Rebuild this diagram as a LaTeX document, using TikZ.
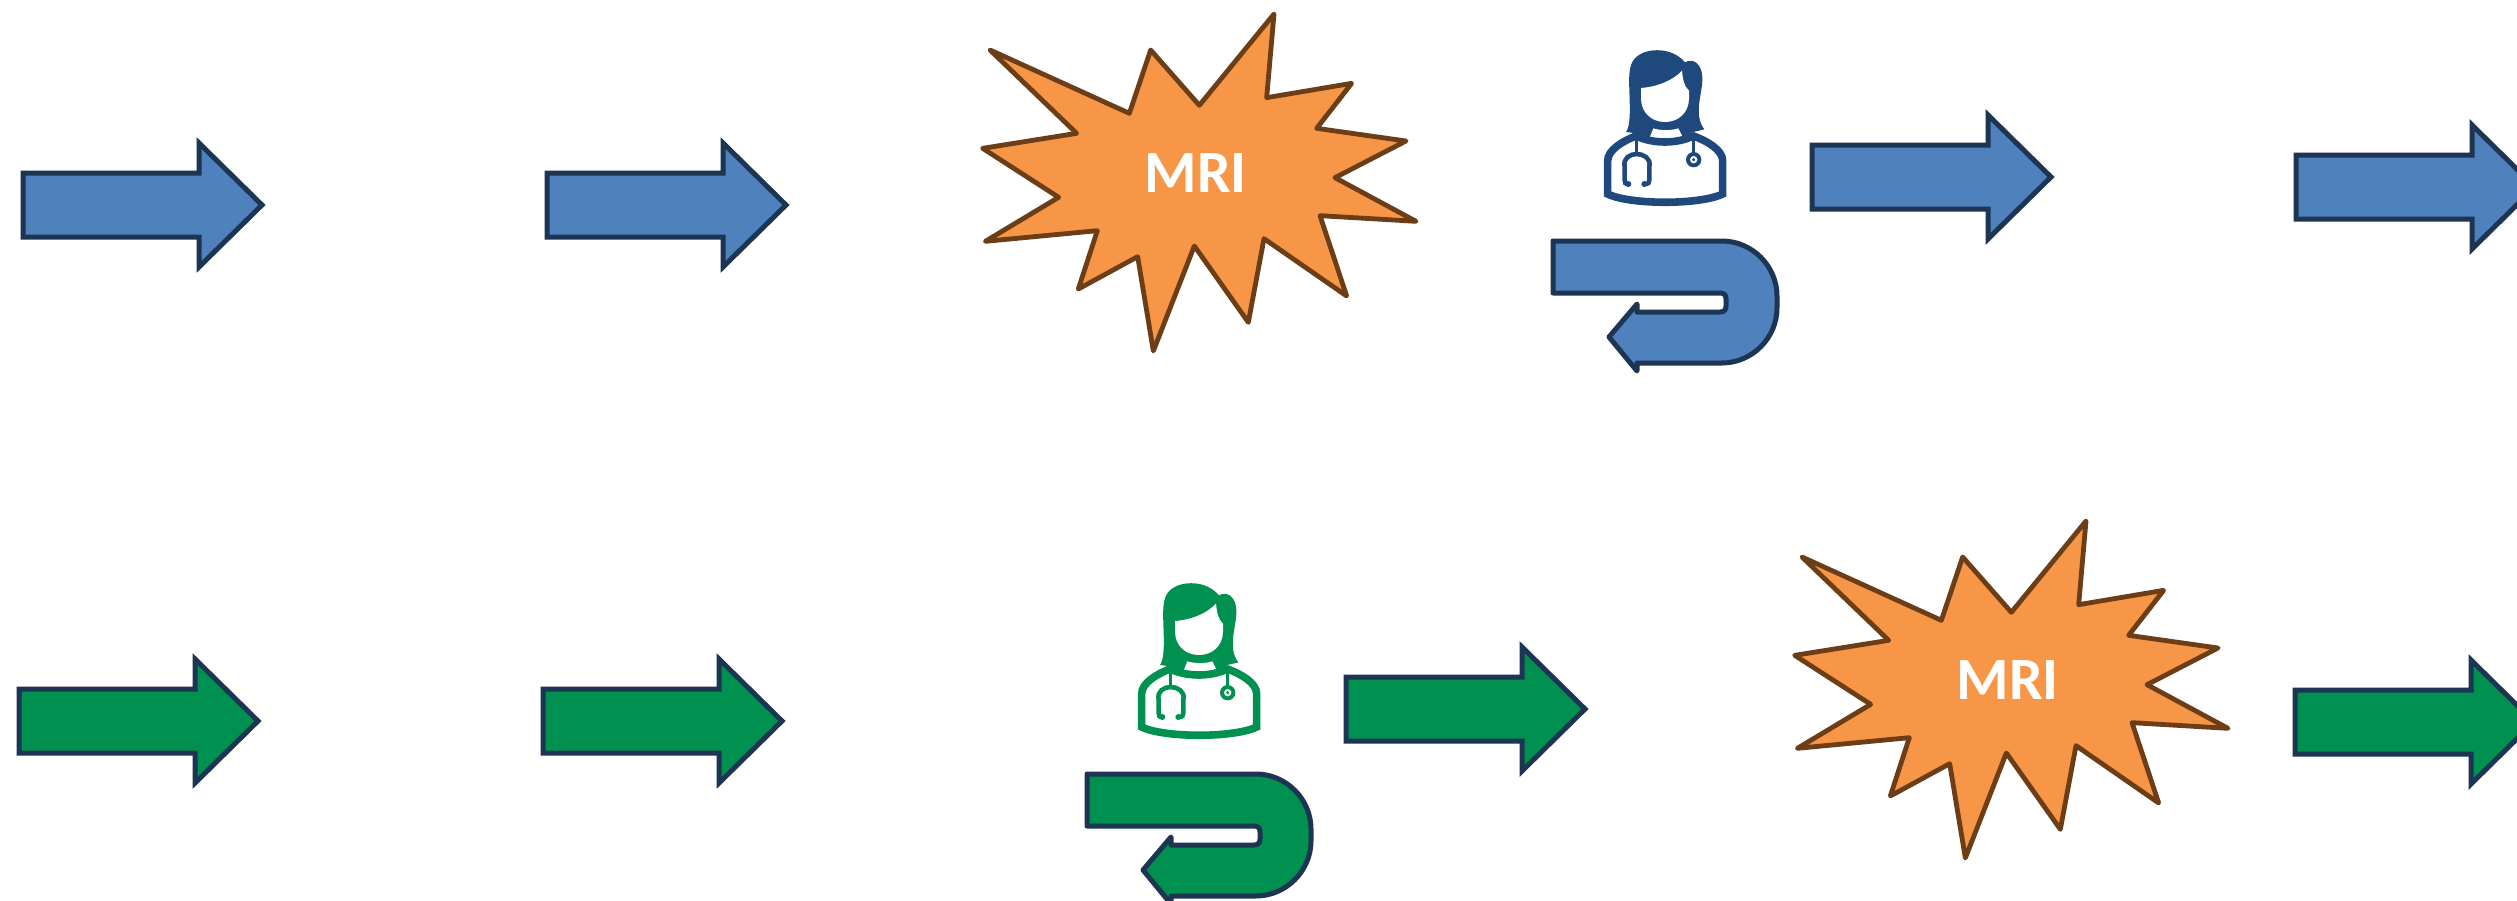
\documentclass[tikz,border=0pt]{standalone}
\usepackage{fontspec}
\setmainfont{Carlito}
\definecolor{navy}{HTML}{1C3553}
\definecolor{arrowblue}{HTML}{4F81BD}
\definecolor{arrowgreen}{HTML}{00904F}
\definecolor{iconblue}{HTML}{1F497D}
\definecolor{starfill}{HTML}{F79646}
\definecolor{starline}{HTML}{6B3E17}
\tikzset{
  arrowshape/.style={draw=navy,line width=5pt,miter limit=10},
  uturn/.style={draw=navy,line width=5pt,line join=round},
  burst/.style={fill=starfill,draw=starline,line width=4.8pt,line join=round},
  mrilabel/.style={text=white,font=\fontsize{60}{60}\selectfont\bfseries,inner sep=0pt},
}
\newcommand{\rarrow}[3]{%
  \draw[arrowshape,fill=#3,shift={(#1,#2)}] (0,-32) -- (176,-32) -- (176,-62) -- (239,0) -- (176,62) -- (176,32) -- (0,32) -- cycle;}
\newcommand{\burst}[3]{%
  \begin{scope}[shift={(#1,#2)},scale=1/3]
    \draw[burst] (120,150)--(538,340)--(602,150)--(748,316)--(972,42)--(950,293)--(1205,250)--(1100,385)--(1368,423)--(1155,533)--(1398,664)--(1110,647)--(1190,888)--(942,716)--(895,967)--(733,738)--(610,1053)--(563,770)--(385,867)--(442,692)--(106,724)--(326,592)--(98,445)--(380,400)--cycle;
    \node[mrilabel] (#3) at (737,519) {MRI};
  \end{scope}}
\newcommand{\doctorgroup}[4]{%
  \begin{scope}[shift={(#1,#2)}]
    \draw[uturn,fill=#4] (1553,241) -- (1722,241)
      .. controls (1752,241) and (1777,266) .. (1777,296) -- (1777,308)
      .. controls (1777,338) and (1752,363) .. (1722,363) -- (1637,363)
      -- (1637,371) -- (1609,337) -- (1637,304) -- (1637,312) -- (1720,312)
      .. controls (1724,312) and (1726,310) .. (1726,306) -- (1726,299)
      .. controls (1726,295) and (1724,293) .. (1720,293) -- (1553,293) -- cycle;
    \begin{scope}[shift={(1590,30)},scale=1/3,#3]
      \fill (108,306) .. controls (122,285) and (120,240) .. (118,180)
        .. controls (116,125) and (118,95) .. (145,76)
        .. controls (175,55) and (245,50) .. (285,97)
        .. controls (305,85) and (338,95) .. (337,150)
        .. controls (336,195) and (310,255) .. (343,298)
        -- (310,306) -- (272,325) -- (185,325) -- (140,310) -- cycle;
      \fill[white] (153,174) .. controls (205,170) and (250,150) .. (276,122)
        .. controls (278,145) and (282,170) .. (297,182) -- (297,205)
        .. controls (297,248) and (265,276) .. (225,276)
        .. controls (185,276) and (153,248) .. (153,205) -- cycle;
      \fill[white] (178,325) -- (190,295) .. controls (210,302) and (245,302) .. (265,295) -- (280,325) -- cycle;
      \draw[line width=7.6pt,line join=miter,line cap=round] (138,318) .. controls (100,332) and (53,360) .. (53,392)
        -- (53,492) .. controls (120,525) and (330,525) .. (398,492)
        -- (398,392) .. controls (398,360) and (350,332) .. (310,318);
      \draw[line width=7.6pt,line cap=round] (138,318) .. controls (190,342) and (260,342) .. (310,318);
      \draw[line width=3.4pt] (140,325) -- (140,372);
      \draw[line width=3.4pt] (310,325) -- (310,370);
      \draw[line width=4.6pt] (115,462) .. controls (105,462) and (104,458) .. (104,450) -- (104,410)
        .. controls (98,385) and (120,372) .. (140,372)
        .. controls (160,372) and (184,385) .. (178,410) -- (178,450)
        .. controls (178,458) and (175,462) .. (165,462);
      \fill (115,462) circle (9);
      \fill (163,462) circle (9);
      \fill (311,389) circle (23);
      \fill[white] (311,389) circle (11);
      \fill (311,389) circle (5);
    \end{scope}
  \end{scope}}
\begin{document}
\begin{tikzpicture}[x=1pt,y=-1pt]
  \useasboundingbox (0,0) rectangle (2517,900);
  \clip (0,0) rectangle (2517,900);
  \fill[white] (0,0) rectangle (2517,900);
  \rarrow{23}{205}{arrowblue}
  \rarrow{547}{205}{arrowblue}
  \burst{950}{0}{mritop}
  \doctorgroup{0}{0}{iconblue}{arrowblue}
  \rarrow{1812}{177}{arrowblue}
  \rarrow{2296}{187}{arrowblue}
  \rarrow{19}{721}{arrowgreen}
  \rarrow{543}{721}{arrowgreen}
  \doctorgroup{-466}{533}{arrowgreen}{arrowgreen}
  \rarrow{1346}{709}{arrowgreen}
  \burst{1762}{507}{mribottom}
  \rarrow{2295}{722}{arrowgreen}
\end{tikzpicture}
\end{document}
